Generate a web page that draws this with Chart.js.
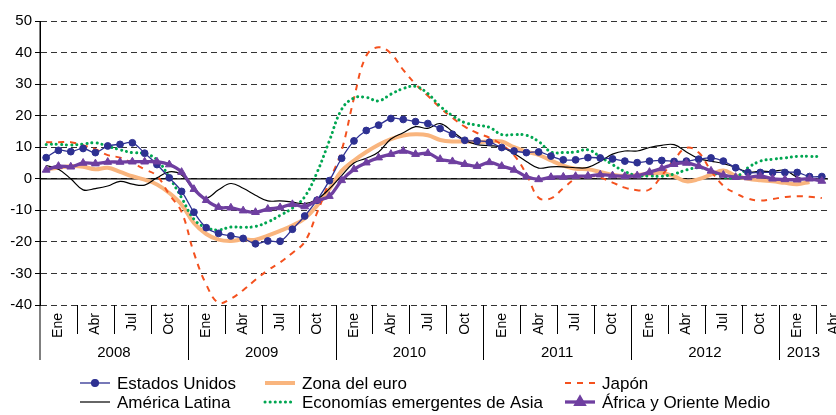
<!DOCTYPE html>
<html>
<head>
<meta charset="utf-8">
<script src="https://cdn.jsdelivr.net/npm/chart.js@4.4.1/dist/chart.umd.min.js"></script>
<style>
    html, body { margin: 0; padding: 0; background: #fff; }
    #wrap { width: 836px; height: 415px; }
</style>
</head>
<body>
<div id="wrap"><canvas id="chart" width="836" height="415"></canvas></div>
<script>

// Data: monthly, Ene 2008 - Abr 2013
const years = ['2008', '2009', '2010', '2011', '2012', '2013'];
const monthNames = ['Ene', 'Feb', 'Mar', 'Abr', 'May', 'Jun', 'Jul', 'Ago', 'Sep', 'Oct', 'Nov', 'Dic'];
const quarterLabels = ['Ene', 'Abr', 'Jul', 'Oct'];
const yTicks = [-40, -30, -20, -10, 0, 10, 20, 30, 40, 50];

const estadosUnidos = [6.7, 9.0, 8.6, 9.6, 8.3, 10.4, 10.9, 11.4, 8.1, 4.5, 0.3, -4.0,
    -10.6, -15.5, -17.3, -18.1, -18.9, -20.6, -19.7, -19.8, -16.0, -11.8, -6.8, -0.6,
    6.5, 12.0, 15.3, 17.0, 19.1, 18.8, 18.1, 17.5, 15.9, 14.1, 12.2, 12.0,
    11.6, 9.9, 8.8, 8.3, 8.5, 7.2, 6.0, 6.0, 6.7, 6.6, 6.3, 5.6,
    5.1, 5.6, 5.8, 5.5, 5.6, 6.2, 6.6, 5.6, 3.5, 2.0, 2.0, 2.0,
    2.0, 2.0, 0.7, 0.7];

const zonaEuro = [3.0, 3.5, 4.0, 3.8, 3.0, 3.5, 2.2, 0.8, -0.3, -1.8, -4.5, -8.2,
    -14.0, -17.5, -19.3, -19.7, -19.2, -19.3, -18.0, -16.5, -14.8, -12.6, -8.5, -3.3,
    2.5, 5.8, 8.5, 10.8, 12.6, 13.7, 14.1, 13.8, 12.3, 11.8, 11.9, 11.6,
    11.9, 11.8, 10.0, 8.6, 7.6, 5.8, 4.2, 3.2, 3.0, 2.2, 1.3, 0.9,
    1.2, 1.6, 1.8, 0.8, -0.8, -0.1, 1.3, 2.6, 1.0, 0.0, -0.5, -0.8,
    -1.3, -1.7, -1.0, null];

const japon = [11.6, 11.6, 11.6, 10.6, 9.4, 7.5, 6.7, 5.0, 3.0, 0.9, -5.0, -10.5,
    -23.5, -33.5, -39.3, -38.0, -35.3, -32.0, -29.0, -26.5, -23.5, -20.0, -10.8, -0.8,
    9.0, 25.5, 39.0, 41.7, 39.7, 34.5, 30.0, 26.3, 22.5, 19.3, 16.5, 14.5,
    13.0, 10.8, 7.5, 1.5, -6.0, -6.2, -3.0, 0.0, 0.9, 0.4, -1.2, -2.8,
    -3.6, -3.4, 1.0, 6.0, 9.8, 8.3, 2.5, -2.2, -4.6, -6.3, -6.9, -6.4,
    -5.8, -5.5, -5.7, -6.1];

const americaLatina = [4.2, 3.0, 0.0, -3.5, -3.1, -2.3, -0.8, -1.7, -2.0, 0.3, 2.2, 1.2,
    -3.5, -6.0, -3.5, -1.5, -3.0, -5.2, -7.0, -7.0, -7.4, -7.9, -6.5, -3.2,
    1.0, 5.0, 6.5, 8.5, 12.6, 14.6, 16.5, 16.0, 17.5, 15.0, 12.2, 10.8,
    10.5, 10.0, 8.0, 5.5, 3.4, 3.8, 3.8, 3.5, 3.6, 5.5, 7.8, 8.8,
    8.8, 9.9, 10.6, 10.8, 8.5, 6.4, 5.6, 4.8, 3.6, 2.1, 2.4, 2.3,
    2.7, 0.5, -0.2, -0.3];

const asiaEmergente = [10.9, 10.9, 10.7, 11.0, 11.4, 10.3, 9.2, 8.3, 8.0, 6.0, 0.5, -6.0,
    -12.8, -15.5, -16.2, -15.3, -15.4, -15.1, -13.7, -11.6, -9.3, -5.7, 2.0, 12.0,
    22.0, 25.6, 25.8, 24.7, 26.8, 28.6, 29.3, 27.0, 23.0, 20.0, 17.8, 17.0,
    16.3, 14.0, 14.0, 13.8, 11.8, 8.5, 8.3, 8.5, 9.2, 7.0, 4.5, 2.3,
    1.0, 0.9, 0.8, 1.5, 2.8, 3.5, 2.5, 0.5, 0.5, 3.5, 5.6, 6.2,
    6.6, 7.1, 7.1, 7.0];

const africaOrienteMedio = [2.8, 4.0, 3.8, 5.0, 4.8, 5.3, 5.3, 5.4, 5.4, 5.4, 4.5, 2.1,
    -3.3, -6.8, -9.0, -9.2, -10.1, -10.6, -9.6, -9.1, -8.1, -8.8, -6.9, -5.5,
    -0.5, 3.0, 5.1, 6.7, 7.8, 8.8, 7.8, 8.1, 6.2, 5.5, 4.6, 4.0,
    5.2, 4.0, 2.8, 0.7, -0.2, 0.5, 0.6, 0.8, 0.9, 1.3, 1.0, 0.8,
    1.0, 2.1, 3.3, 4.6, 5.0, 4.0, 2.5, 1.2, 0.5, 0.4, 0.9, 0.0,
    -0.2, -0.3, 0.0, -0.7];


const labels = [];
years.forEach(year => monthNames.forEach(m => labels.push(m + ' ' + year)));
labels.length = estadosUnidos.length;

const font = "'Liberation Sans', Arial, sans-serif";


// Axis decoration: quarter ticks, year separators, rotated month labels, legend
const axisDecor = {
    id: 'axisDecor',

    beforeDatasetsDraw(chart) {
        const { ctx, chartArea, scales: { y } } = chart;
        const y0 = y.getPixelForValue(0);
        ctx.save();
        ctx.strokeStyle = '#000';
        ctx.lineWidth = 1.3;
        ctx.beginPath();
        ctx.moveTo(chartArea.left, y0);
        ctx.lineTo(chartArea.right, y0);
        ctx.stroke();
        ctx.restore();
    },

    afterDraw(chart) {
        const { ctx, chartArea, scales: { x } } = chart;
        const step = x.getPixelForValue(1) - x.getPixelForValue(0);
        const edge = i => x.getPixelForValue(0) + (i - 0.5) * step;
        const bottom = chartArea.bottom;

        ctx.save();
        ctx.strokeStyle = '#000';
        ctx.lineWidth = 1;

        // y axis line running down through the label area
        ctx.beginPath();
        ctx.moveTo(chartArea.left, chartArea.top);
        ctx.lineTo(chartArea.left, bottom + 55);
        ctx.stroke();

        const quarters = Math.ceil(labels.length / 3);
        for (let q = 1; q < quarters; q++) {
            const px = Math.round(edge(q * 3)) + 0.5;
            ctx.beginPath();
            ctx.moveTo(px, bottom);
            ctx.lineTo(px, bottom + (q % 4 === 0 ? 55 : 29));
            ctx.stroke();
        }

        // month labels (rotated)
        ctx.fillStyle = '#000';
        ctx.font = '14px ' + font;
        ctx.textAlign = 'right';
        ctx.textBaseline = 'middle';
        for (let q = 0; q < quarters; q++) {
            const cx = edge(q * 3) + 1.5 * step;
            ctx.save();
            ctx.translate(cx, bottom + 8);
            ctx.rotate(-Math.PI / 2);
            ctx.fillText(quarterLabels[q % 4], 0, 0);
            ctx.restore();
        }

        // year labels
        ctx.font = '15px ' + font;
        ctx.textAlign = 'center';
        years.forEach((year, yi) => {
            const start = edge(yi * 12);
            const end = Math.min(edge(yi * 12 + 12), chartArea.right);
            ctx.fillText(year, (start + end) / 2, bottom + 48);
        });

        // legend
        const cols = [80, 265, 565];
        const rows = [383, 402];
        ctx.font = '17px ' + font;
        ctx.textAlign = 'left';
        chart.data.datasets.forEach((ds, i) => {
            const lx = cols[i % 3];
            const ly = rows[Math.floor(i / 3)];
            ctx.save();
            ctx.strokeStyle = ds.borderColor;
            ctx.lineWidth = ds.borderWidth;
            ctx.lineCap = ds.borderCapStyle || 'butt';
            ctx.setLineDash(ds.borderDash || []);
            ctx.beginPath();
            ctx.moveTo(lx, ly);
            ctx.lineTo(lx + 30, ly);
            ctx.stroke();
            ctx.setLineDash([]);
            if (ds.pointRadius > 0) {
                ctx.fillStyle = ds.pointBackgroundColor;
                ctx.strokeStyle = ds.borderColor;
                Chart.helpers.drawPoint(ctx, {
                    pointStyle: ds.pointStyle,
                    radius: ds.pointRadius,
                    borderWidth: 1,
                    rotation: 0
                }, lx + 15, ly);
            }
            ctx.restore();
            ctx.fillStyle = '#000';
            ctx.fillText(ds.label, lx + 37, ly + 1);
        });

        ctx.restore();
    }
};


new Chart(document.getElementById('chart'), {
    type: 'line',
    data: {
        labels: labels,
        datasets: [
            {
                label: 'Estados Unidos',
                data: estadosUnidos,
                borderColor: '#2E3192',
                backgroundColor: '#2E3192',
                pointBackgroundColor: '#2E3192',
                borderWidth: 1.3,
                pointStyle: 'circle',
                pointRadius: 3.4,
                pointBorderWidth: 1,
                order: 2
            },
            {
                label: 'Zona del euro',
                data: zonaEuro,
                borderColor: '#F9B57E',
                backgroundColor: '#F9B57E',
                borderWidth: 4,
                pointRadius: 0,
                order: 6
            },
            {
                label: 'Japón',
                data: japon,
                borderColor: '#F4511E',
                backgroundColor: '#F4511E',
                borderWidth: 2,
                borderDash: [6, 6],
                pointRadius: 0,
                order: 5
            },
            {
                label: 'América Latina',
                data: americaLatina,
                borderColor: '#000000',
                backgroundColor: '#000000',
                borderWidth: 1.2,
                pointRadius: 0,
                order: 3
            },
            {
                label: 'Economías emergentes de Asia',
                data: asiaEmergente,
                borderColor: '#00A651',
                backgroundColor: '#00A651',
                borderWidth: 3,
                borderDash: [0.1, 5],
                borderCapStyle: 'round',
                pointRadius: 0,
                order: 4
            },
            {
                label: 'África y Oriente Medio',
                data: africaOrienteMedio,
                borderColor: '#6F3FA0',
                backgroundColor: '#6F3FA0',
                pointBackgroundColor: '#6F3FA0',
                borderWidth: 3.3,
                pointStyle: 'triangle',
                pointRadius: 4.5,
                pointBorderWidth: 1,
                order: 1
            }
        ]
    },
    options: {
        responsive: false,
        animation: false,
        devicePixelRatio: 1,
        spanGaps: false,
        elements: {
            line: { tension: 0.4 }
        },
        layout: {
            padding: { left: 0, top: 21, right: 8, bottom: 0 }
        },
        plugins: {
            legend: { display: false },
            tooltip: { enabled: false }
        },
        scales: {
            x: {
                type: 'category',
                offset: true,
                grid: { display: false },
                border: { display: false },
                ticks: { display: false },
                afterFit: scale => { scale.height = 110; }
            },
            y: {
                min: -40,
                max: 50,
                afterBuildTicks: scale => {
                    scale.ticks = yTicks.map(v => ({ value: v }));
                },
                afterFit: scale => { scale.width = 40; },
                ticks: {
                    color: '#000',
                    padding: 3,
                    font: { family: font, size: 15 }
                },
                grid: {
                    color: '#333',
                    lineWidth: 1,
                    drawTicks: true,
                    tickLength: 5,
                    tickColor: '#000',
                    tickBorderDash: []
                },
                border: {
                    display: true,
                    color: '#000',
                    width: 1,
                    dash: [6, 4]
                }
            }
        }
    },
    plugins: [axisDecor]
});

</script>
</body>
</html>
